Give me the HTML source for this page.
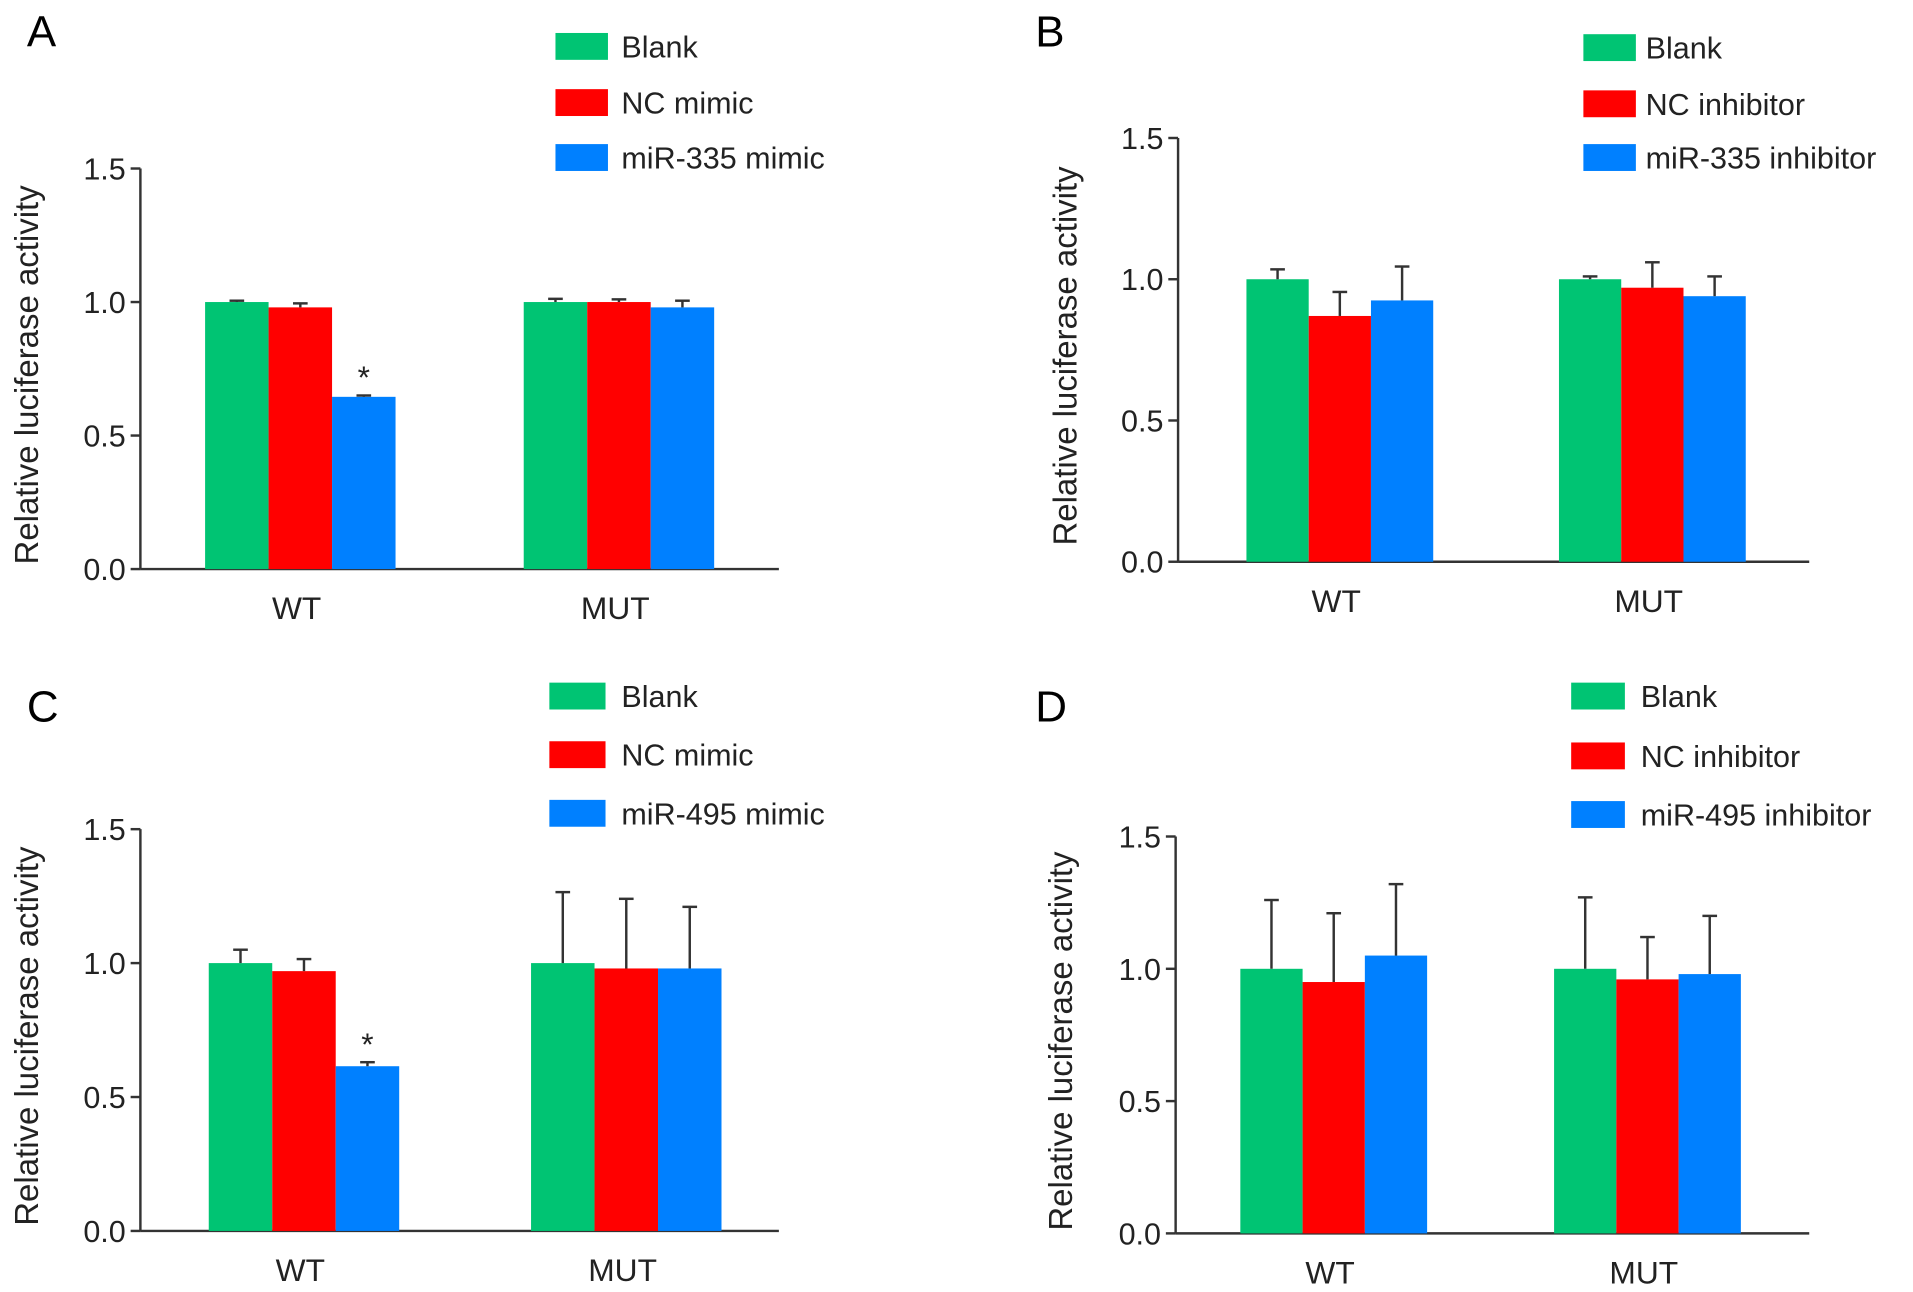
<!DOCTYPE html>
<html><head><meta charset="utf-8"><style>
html,body{margin:0;padding:0;background:#fff}
svg{display:block;font-family:"Liberation Sans",Arial,sans-serif}
</style></head><body>
<svg id="fig" width="1913" height="1292" viewBox="0 0 1567 1058" preserveAspectRatio="none" xmlns="http://www.w3.org/2000/svg"></svg>
<script>
const groups = ["WT","MUT"];
const tickLabels = ["0.0","0.5","1.0","1.5"];
const tickValues = [0,0.5,1.0,1.5];
const seriesColors = ["#00c473","#ff0000","#0080ff"];
const aLabels = ["Blank","NC mimic","miR-335 mimic"];
const aValues = [[1.0,1.0],[0.98,1.0],[0.645,0.98]];
const aErrors = [[0.005,0.012],[0.015,0.01],[0.005,0.025]];
const bLabels = ["Blank","NC inhibitor","miR-335 inhibitor"];
const bValues = [[1.0,1.0],[0.87,0.97],[0.925,0.94]];
const bErrors = [[0.035,0.01],[0.085,0.09],[0.12,0.07]];
const cLabels = ["Blank","NC mimic","miR-495 mimic"];
const cValues = [[1.0,1.0],[0.97,0.98],[0.615,0.98]];
const cErrors = [[0.05,0.265],[0.045,0.26],[0.015,0.23]];
const dLabels = ["Blank","NC inhibitor","miR-495 inhibitor"];
const dValues = [[1.0,1.0],[0.95,0.96],[1.05,0.98]];
const dErrors = [[0.26,0.27],[0.26,0.16],[0.27,0.22]];

const NS="http://www.w3.org/2000/svg";
const svg=document.getElementById('fig');
function mk(tag,attrs,parent,text){const e=document.createElementNS(NS,tag);for(const k in attrs)e.setAttribute(k,attrs[k]);if(text!==undefined)e.textContent=text;(parent||svg).appendChild(e);return e;}

function panel(cfg){
  const g=mk('g',{});
  
  
  const y=v=>cfg.y0-(cfg.y0-cfg.y15)*v/1.5;
  const t=mk('text',{x:cfg.lx,y:cfg.ly,'font-size':36},g,cfg.letter);
  
  
  const ax=mk('line',{x1:cfg.ax,y1:y(1.5),x2:cfg.ax,y2:y(0),stroke:'#333','stroke-width':2},g);
  
  
  const xa=mk('line',{x1:cfg.ax,y1:y(0),x2:cfg.axEnd,y2:y(0),stroke:'#333','stroke-width':2},g);
  
  
  tickValues.forEach((v,i)=>{
    const tk=mk('line',{x1:cfg.ax-8,y1:y(v),x2:cfg.ax,y2:y(v),stroke:'#333','stroke-width':2},g);
    
    
    const tl=mk('text',{x:cfg.ax-12,y:y(v)+9,'font-size':25,'text-anchor':'end',fill:'#222'},g,tickLabels[i]);
    
    
  });
  const yt=mk('text',{x:0,y:0,'font-size':27,'text-anchor':'middle',fill:'#222',transform:`translate(${cfg.ytx},${(y(0)+y(1.5))/2+5}) rotate(-90)`},g,'Relative luciferase activity');
  
  
  const bw=cfg.bw;
  groups.forEach((gname,gi)=>{
    const gx=cfg.gx[gi];
    const gl=mk('text',{x:gx+1.5*bw-3,y:y(0)+41,'font-size':26,'text-anchor':'middle',fill:'#222'},g,gname);
    
    
    for(let s=0;s<3;s++){
      const v=cfg.values[s][gi], e=cfg.errors[s][gi];
      const bx=gx+s*bw;
      const r=mk('rect',{x:bx,y:y(v),width:bw,height:y(0)-y(v),fill:seriesColors[s]},g);
      
      
      const cx=bx+bw/2;
      const el=mk('line',{x1:cx,y1:y(v),x2:cx,y2:y(v+e),stroke:'#333','stroke-width':2},g);
      
      
      const ec=mk('line',{x1:cx-6,y1:y(v+e),x2:cx+6,y2:y(v+e),stroke:'#333','stroke-width':2},g);
      
      
      if(cfg.star && gi===0 && s===2){
        const st=mk('text',{x:cx,y:y(v+e)-6,'font-size':26,'text-anchor':'middle',fill:'#222'},g,'*');
        
        
      }
    }
  });
  cfg.labels.forEach((lab,i)=>{
    const cy=cfg.legY[i];
    const sw=mk('rect',{x:cfg.legX,y:cy-11,width:cfg.legW,height:22,fill:seriesColors[i]},g);
    
    
    const lt=mk('text',{x:cfg.legTx,y:cy+9,'font-size':25,fill:'#222'},g,lab);
    
    
  });
}
panel({letter:'A',lx:22,ly:38,ax:115,axEnd:638,y15:138,y0:466,ytx:31,bw:52,gx:[168,429],values:aValues,errors:aErrors,labels:aLabels,legX:455,legW:43,legTx:509,legY:[38,84,129],star:true});
panel({letter:'B',lx:848,ly:38,ax:965,axEnd:1482,y15:113,y0:460,ytx:882,bw:51,gx:[1021,1277],values:bValues,errors:bErrors,labels:bLabels,legX:1297,legW:43,legTx:1348,legY:[39,85,129],star:false});
panel({letter:'C',lx:22,ly:591,ax:115,axEnd:638,y15:679,y0:1008,ytx:31,bw:52,gx:[171,435],values:cValues,errors:cErrors,labels:cLabels,legX:450,legW:46,legTx:509,legY:[570,618,666],star:true});
panel({letter:'D',lx:848,ly:591,ax:963,axEnd:1482,y15:685,y0:1010,ytx:878,bw:51,gx:[1016,1273],values:dValues,errors:dErrors,labels:dLabels,legX:1287,legW:44,legTx:1344,legY:[570,619,667],star:false});
</script>
</body></html>
